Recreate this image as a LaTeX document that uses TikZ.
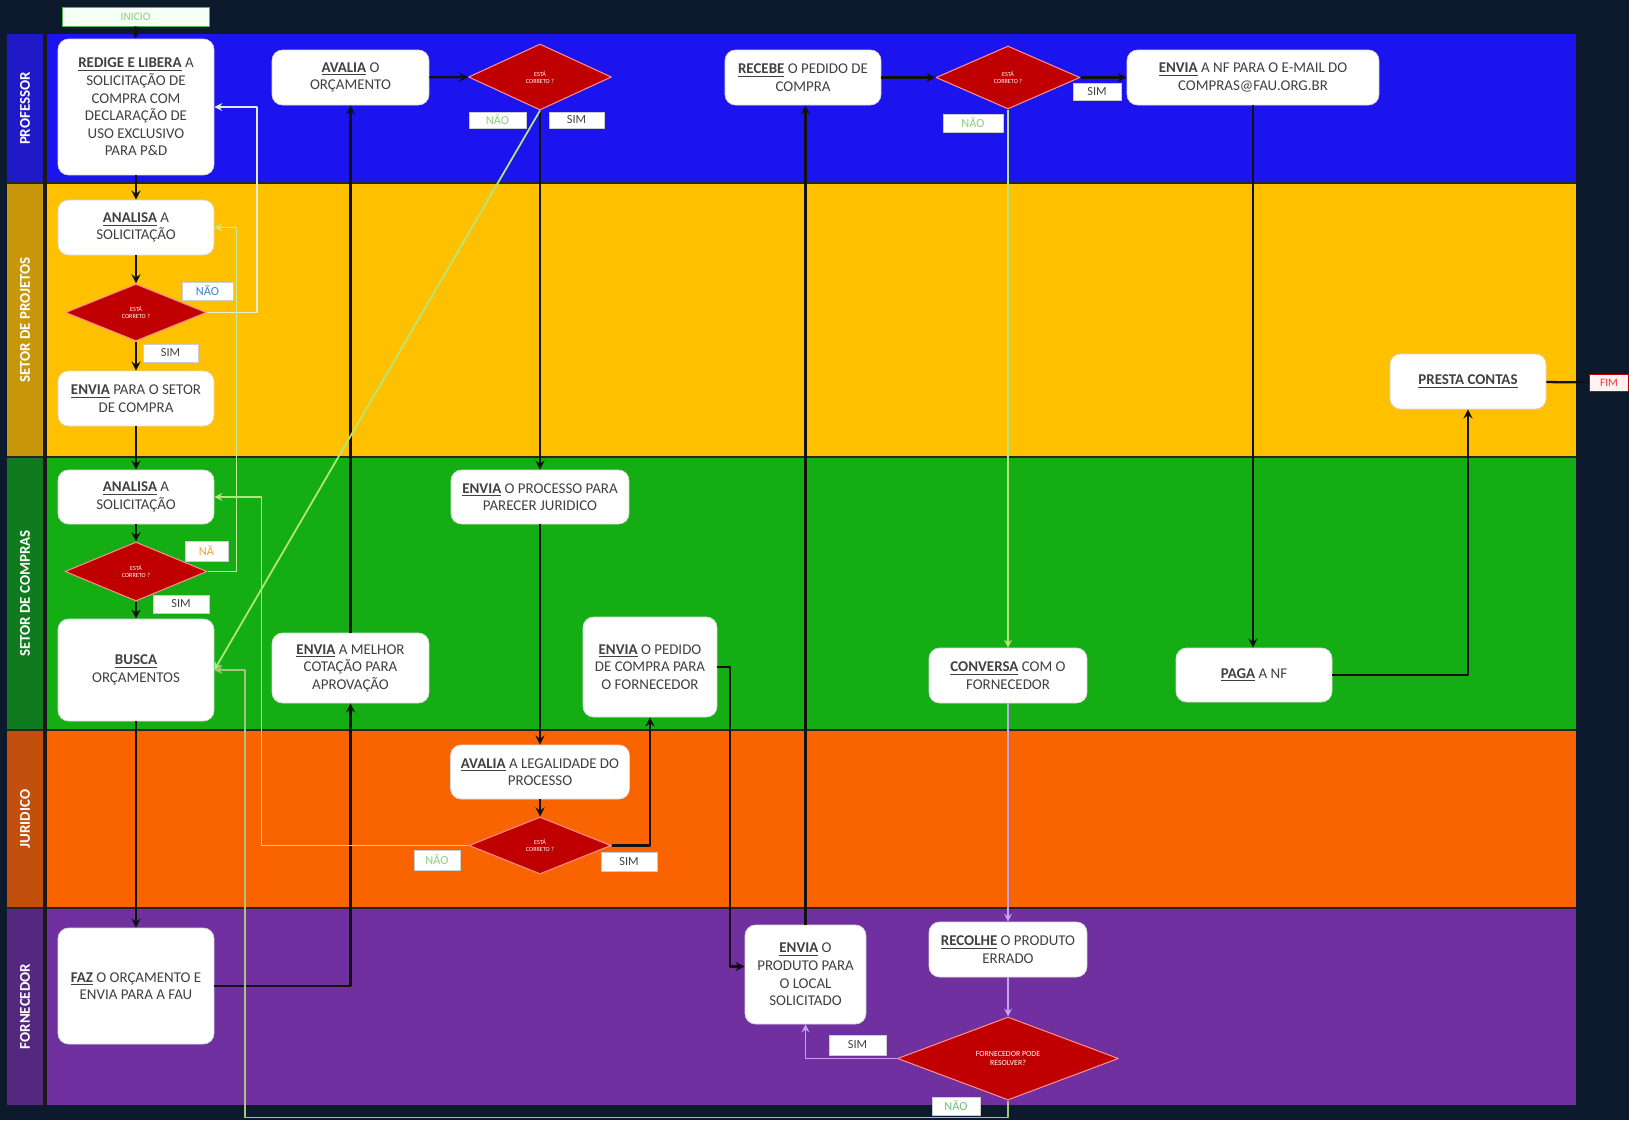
\documentclass[tikz,border=0pt]{standalone}
\usepackage{fontspec}
\setmainfont{Carlito}
\usetikzlibrary{shapes.geometric}
\definecolor{fundo}{HTML}{0D1A2E}
\definecolor{azul}{HTML}{1C14EE}
\definecolor{azulesc}{HTML}{2019C8}
\definecolor{amarelo}{HTML}{FFC000}
\definecolor{amareloesc}{HTML}{C8960A}
\definecolor{verde}{HTML}{14AE14}
\definecolor{verdeesc}{HTML}{0F7A1E}
\definecolor{laranja}{HTML}{FA6400}
\definecolor{laranjaesc}{HTML}{C2500C}
\definecolor{roxo}{HTML}{7030A0}
\definecolor{roxoesc}{HTML}{55287F}
\definecolor{vermelho}{HTML}{C00000}
\definecolor{linha}{HTML}{111111}
\definecolor{verdeclaro}{HTML}{B4E67E}
\definecolor{branco}{HTML}{E3EBDD}
\definecolor{lilas}{HTML}{C6A4F2}
\definecolor{textonao}{HTML}{8CD07A}
\definecolor{textoazul}{HTML}{3C7FD0}
\definecolor{textolaranja}{HTML}{F2A33A}
\begin{document}
\begin{tikzpicture}[>=stealth, x=0.02cm, y=-0.02cm, line join=round,
    caixa/.style={draw=black!15, fill=white, rounded corners=6pt, align=center,
      text=black!75, font=\fontsize{8.5}{10}\selectfont, inner sep=2pt},
    losango/.style={diamond, draw=red!45!white, line width=0.6pt, fill=vermelho,
      inner sep=0pt, text=white, align=center, font=\fontsize{3.5}{4}\selectfont},
    etiqueta/.style={draw=black!20, fill=white, inner sep=0pt,
      font=\fontsize{7}{8}\selectfont, text=black!75},
    faixa/.style={rotate=90, text=white, font=\fontsize{8.5}{10}\selectfont\bfseries},
    fluxo/.style={->, line width=1.3pt, draw=linha},
    retorno/.style={->, line width=1pt, draw=verdeclaro},
    volta/.style={->, line width=1pt, draw=lilas}]
  \useasboundingbox (0,0) rectangle (1629,1120);
  \fill[fundo] (0,0) rectangle (1629,1120);
  % raias
  \fill[azul] (7,34) rectangle (1576,183);
  \fill[amarelo] (7,183) rectangle (1576,457);
  \fill[verde] (7,457) rectangle (1576,730);
  \fill[laranja] (7,730) rectangle (1576,908);
  \fill[roxo] (7,908) rectangle (1576,1105);
  \fill[azulesc] (7,34) rectangle (43,183);
  \fill[amareloesc] (7,183) rectangle (43,457);
  \fill[verdeesc] (7,457) rectangle (43,730);
  \fill[laranjaesc] (7,730) rectangle (43,908);
  \fill[roxoesc] (7,908) rectangle (43,1105);
  \foreach \y in {183,457,730,908}
    \draw[black!85, line width=0.8pt] (7,\y) -- (1576,\y);
  \draw[black!90, line width=2.5pt] (45,34) -- (45,1105);
  \node[faixa] (lprof) at (25,108.5) {PROFESSOR};
  \node[faixa] (lproj) at (25,320) {SETOR DE PROJETOS};
  \node[faixa] (lcomp) at (25,593.5) {SETOR DE COMPRAS};
  \node[faixa] (ljur) at (25,819) {JURIDICO};
  \node[faixa] (lforn) at (25,1006.5) {FORNECEDOR};

  % inicio e fim
  \node[draw=green!60!black!70, fill=green!4, text=textonao, minimum width=2.94cm,
    minimum height=0.38cm, inner sep=0pt, font=\fontsize{6.5}{7}\selectfont] (inicio) at (135.5,16.5) {INICIO};
  \node[draw=red!75!black, fill=red!5, text=red!80, minimum width=0.78cm,
    minimum height=0.34cm, inner sep=0pt, font=\fontsize{6.5}{7}\selectfont] (fim) at (1609,382.5) {FIM};

  % professor
  \node[caixa, minimum width=3.12cm, minimum height=2.72cm] (redige) at (136,107)
    {\underline{\textbf{REDIGE E LIBERA}} A\\SOLICITAÇÃO DE\\COMPRA COM\\DECLARAÇÃO DE\\USO EXCLUSIVO\\PARA P\&D};
  \node[caixa, minimum width=3.14cm, minimum height=1.1cm] (avaliaorc) at (350.5,77.5)
    {\underline{\textbf{AVALIA}} O\\ORÇAMENTO};
  \node[losango, minimum width=2.86cm, minimum height=1.32cm] (dP1) at (540,77) {ESTÁ\\CORRETO ?};
  \node[caixa, minimum width=3.12cm, minimum height=1.1cm] (recebe) at (803,77.5)
    {\underline{\textbf{RECEBE}} O PEDIDO DE\\COMPRA};
  \node[losango, minimum width=2.88cm, minimum height=1.26cm] (dP2) at (1008,77.5) {ESTÁ\\CORRETO ?};
  \node[caixa, minimum width=5.04cm, minimum height=1.1cm] (enviaNF) at (1253,77.5)
    {\underline{\textbf{ENVIA}} A NF PARA O E-MAIL DO\\COMPRAS@FAU.ORG.BR};

  % setor de projetos
  \node[caixa, minimum width=3.12cm, minimum height=1.1cm] (analisaP) at (136,227.5)
    {\underline{\textbf{ANALISA}} A\\SOLICITAÇÃO};
  \node[losango, minimum width=2.82cm, minimum height=1.14cm] (dS1) at (136,312.5) {ESTÁ\\CORRETO ?};
  \node[caixa, minimum width=3.12cm, minimum height=1.1cm] (enviaSetor) at (136,398.5)
    {\underline{\textbf{ENVIA}} PARA O SETOR\\DE COMPRA};
  \node[caixa, minimum width=3.12cm, minimum height=1.1cm] (presta) at (1468,381.5)
    {\underline{\textbf{PRESTA CONTAS}}};

  % setor de compras
  \node[caixa, minimum width=3.12cm, minimum height=1.08cm] (analisaC) at (136,497)
    {\underline{\textbf{ANALISA}} A\\SOLICITAÇÃO};
  \node[losango, minimum width=2.84cm, minimum height=1.18cm] (dC1) at (136,571.5) {ESTÁ\\CORRETO ?};
  \node[caixa, minimum width=3.12cm, minimum height=2.04cm] (busca) at (136,670)
    {\underline{\textbf{BUSCA}}\\ORÇAMENTOS};
  \node[caixa, minimum width=3.14cm, minimum height=1.4cm] (melhor) at (350.5,668)
    {\underline{\textbf{ENVIA}} A MELHOR\\COTAÇÃO PARA\\APROVAÇÃO};
  \node[caixa, minimum width=3.56cm, minimum height=1.08cm] (processo) at (540,497)
    {\underline{\textbf{ENVIA}} O PROCESSO PARA\\PARECER JURIDICO};
  \node[caixa, minimum width=2.68cm, minimum height=2cm] (pedido) at (650,667)
    {\underline{\textbf{ENVIA}} O PEDIDO\\DE COMPRA PARA\\O FORNECEDOR};
  \node[caixa, minimum width=3.16cm, minimum height=1.1cm] (conversa) at (1008,675.5)
    {\underline{\textbf{CONVERSA}} COM O\\FORNECEDOR};
  \node[caixa, minimum width=3.12cm, minimum height=1.08cm] (paga) at (1254,675)
    {\underline{\textbf{PAGA}} A NF};

  % juridico
  \node[caixa, minimum width=3.58cm, minimum height=1.08cm] (legal) at (540,772)
    {\underline{\textbf{AVALIA}} A LEGALIDADE DO\\PROCESSO};
  \node[losango, minimum width=2.84cm, minimum height=1.14cm] (dJ1) at (540,845.5) {ESTÁ\\CORRETO ?};

  % fornecedor
  \node[caixa, minimum width=3.12cm, minimum height=2.32cm] (faz) at (136,986)
    {\underline{\textbf{FAZ}} O ORÇAMENTO E\\ENVIA PARA A FAU};
  \node[caixa, minimum width=2.42cm, minimum height=1.98cm] (produto) at (805.5,974.5)
    {\underline{\textbf{ENVIA}} O\\PRODUTO PARA\\O LOCAL\\SOLICITADO};
  \node[caixa, minimum width=3.16cm, minimum height=1.1cm] (recolhe) at (1008,949.5)
    {\underline{\textbf{RECOLHE}} O PRODUTO\\ERRADO};
  \node[losango, minimum width=4.42cm, minimum height=1.66cm, font=\fontsize{4.5}{5}\selectfont]
    (dF1) at (1008,1058.5) {FORNECEDOR PODE\\RESOLVER?};

  % ligacoes
  \draw[fluxo] (inicio) -- (redige);
  \draw[fluxo] (redige) -- (analisaP);
  \draw[fluxo] (analisaP) -- (dS1);
  \draw[fluxo] (dS1) -- (enviaSetor);
  \draw[retorno, draw=branco] (dS1.east) -- ++(50,0) |- (redige.east);
  \draw[fluxo] (enviaSetor) -- (analisaC);
  \draw[fluxo] (analisaC) -- (dC1);
  \draw[fluxo] (dC1) -- (busca);
  \draw[retorno, draw=verdeclaro!80!white] (dC1.east) -- ++(29,0) |- (analisaP.east);
  \draw[fluxo] (busca) -- (faz);
  \draw[fluxo] (faz.east) -| (melhor.south);
  \draw[fluxo] (melhor) -- (avaliaorc);
  \draw[fluxo] (avaliaorc) -- (dP1);
  \draw[fluxo] (dP1.south) -- (processo.north);
  \draw[retorno] (dP1.south) -- (busca.east);
  \draw[fluxo] (processo) -- (legal);
  \draw[fluxo] (legal) -- (dJ1);
  \draw[retorno] (dJ1.west) -- ++(-207,0) |- (analisaC.east);
  \draw[fluxo] (dJ1.east) -| (pedido.south);
  \draw[fluxo] (pedido.east) -- ++(13,0) |- ([yshift=0.16cm]produto.west);
  \draw[fluxo] (produto.north) -- (produto.north |- recebe.south);
  \draw[fluxo] (recebe) -- (dP2);
  \draw[fluxo] (dP2) -- (enviaNF);
  \draw[retorno] (dP2.south) -- (conversa.north);
  \draw[volta] (conversa) -- (recolhe);
  \draw[volta] (recolhe) -- (dF1);
  \draw[volta] (dF1.west) -| (produto.south);
  \draw[retorno, draw=verdeclaro!70!gray] (dF1.south) -- ++(0,17) -| (245,670) -- (busca.east);
  \draw[fluxo] (enviaNF.south) -- (enviaNF.south |- paga.north);
  \draw[fluxo] (paga.east) -| (presta.south);
  \draw[line width=1.3pt, draw=linha] (presta) -- (fim);

  % etiquetas
  \node[etiqueta, minimum width=1.14cm, minimum height=0.32cm, text=textonao] (nP1) at (497.5,120) {NÃO};
  \node[etiqueta, minimum width=1.1cm, minimum height=0.32cm] (sP1) at (576.5,120) {SIM};
  \node[etiqueta, minimum width=0.96cm, minimum height=0.34cm] (sP2) at (1097,91.5) {SIM};
  \node[etiqueta, minimum width=1.2cm, minimum height=0.36cm, text=textonao] (nP2) at (973,123) {NÃO};
  \node[etiqueta, minimum width=1.02cm, minimum height=0.36cm, text=textoazul] (nS1) at (207.5,291) {NÃO};
  \node[etiqueta, minimum width=1.1cm, minimum height=0.36cm] (sS1) at (170.5,353) {SIM};
  \node[etiqueta, minimum width=0.86cm, minimum height=0.4cm, text=textolaranja] (nC1) at (206.5,551) {NÃ};
  \node[etiqueta, minimum width=1.12cm, minimum height=0.36cm] (sC1) at (181,604) {SIM};
  \node[etiqueta, minimum width=0.92cm, minimum height=0.4cm, text=textonao] (nJ1) at (437,860) {NÃO};
  \node[etiqueta, minimum width=1.12cm, minimum height=0.38cm] (sJ1) at (629,861.5) {SIM};
  \node[etiqueta, minimum width=1.14cm, minimum height=0.4cm] (sF1) at (857.5,1045) {SIM};
  \node[etiqueta, minimum width=0.96cm, minimum height=0.36cm, text=textonao!80!teal] (nF1) at (956,1106) {NÃO};
\end{tikzpicture}
\end{document}
